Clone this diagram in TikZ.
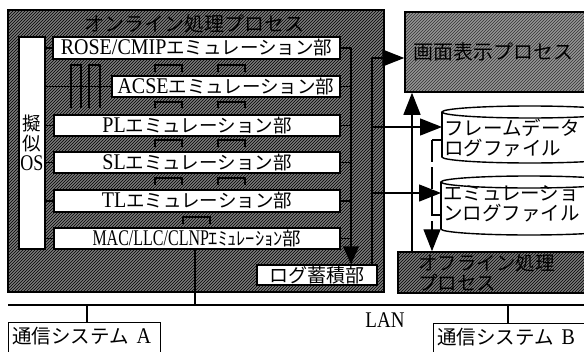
\documentclass[tikz,border=0pt]{standalone}
\usepackage{fontspec}
\setmainfont{Liberation Serif}
\newfontfamily\jp{Noto Sans CJK JP}
\usetikzlibrary{arrows.meta,patterns}
\newcommand\J[1]{{\jp\mdseries #1}}
\newcommand\Lt[2][1]{\scalebox{#1}[1.12]{\fontsize{20}{20}\selectfont #2}}
\newcommand\brkt[4]{\draw[brk] (#1,#4) -- (#1,#3) -- (#2,#3) -- (#2,#4);}
\tikzset{
  hatchbox/.style={draw=black, line width=1.8pt, preaction={fill=black!52}, pattern=north east lines, pattern color=black, inner sep=0pt},
  lighthatch/.style={draw=black, line width=1.5pt, preaction={fill=black!42}, pattern=north east lines, pattern color=black!80, inner sep=0pt},
  mod/.style={draw, line width=1.4pt, fill=white, inner sep=0pt, font=\fontsize{18.5}{20}\selectfont},
  conn/.style={line width=1.4pt},
  arr/.style={conn, -{Triangle[length=22pt,width=17pt]}},
  brk/.style={line width=1.6pt},
  jtext/.style={font=\jp\fontsize{19.5}{20}\selectfont, inner sep=0pt},
  cylline/.style={line width=1.4pt},
}
\begin{document}
\begin{tikzpicture}[x=1pt,y=-1pt]
\useasboundingbox (0,0) rectangle (584,351);
\begin{scope}
\clip (0,0) rectangle (584,351);
\fill[white] (0,0) rectangle (584,351);

% online process
\node[hatchbox, minimum width=376pt, minimum height=282pt] (online) at (196,151) {};
\node[jtext, font=\jp\fontsize{20}{20}\selectfont] (title) at (194,24) {オンライン処理プロセス};

\node[mod, minimum width=26pt, minimum height=212pt, align=center] (os) at (32,143) {\J{擬}\\\J{似}\\\Lt[0.9]{OS}};
\node[mod, minimum width=287pt, minimum height=22pt] (rose) at (196.5,48) {\Lt{ROSE/CMIP}\J{エミュレーション部}};
\node[mod, minimum width=228pt, minimum height=21pt] (acse) at (226,86.5) {\Lt{ACSE}\J{エミュレーション部}};
\node[mod, minimum width=286pt, minimum height=21pt] (pl) at (197,125.5) {\Lt{PL}\J{エミュレーション部}};
\node[mod, minimum width=286pt, minimum height=21pt] (sl) at (197,162.5) {\Lt{SL}\J{エミュレーション部}};
\node[mod, minimum width=286pt, minimum height=22pt] (tl) at (197,201) {\Lt{TL}\J{エミュレーション部}};
\node[mod, minimum width=286pt, minimum height=21pt] (mac) at (197,238.5) {\Lt[0.8]{MAC/LLC/CLNP}\J{ｴﾐｭﾚｰｼｮﾝ部}};
\node[mod, minimum width=120pt, minimum height=20pt, font=\jp\fontsize{19}{20}\selectfont] (log) at (317,275) {ログ蓄積部};

% left connectors
\foreach \m in {rose,acse,pl,sl,tl,mac} \draw[conn] (os.east |- \m.west) -- (\m.west);
% pillars
\draw[brk, line width=2pt] (71,108) -- (71,65) -- (81,65) -- (81,108);
\draw[brk, line width=2pt] (89,108) -- (89,65) -- (100,65) -- (100,108);
% brackets between layers
\brkt{155}{182}{65}{72}
\brkt{218}{245}{65}{72}
\brkt{155}{182}{102}{108}
\brkt{218}{245}{102}{108}
\brkt{155}{182}{140}{147}
\brkt{218}{245}{140}{147}
\brkt{155}{182}{178}{185}
\brkt{218}{245}{178}{185}
\brkt{183}{210}{217}{224}

% right bus to log
\coordinate (bus) at (351,48);
\draw[conn] (rose.east) -- (bus);
\foreach \m in {acse,pl,sl,tl,mac} \draw[conn] (\m.east) -- (\m.east -| bus);
\draw[conn, -{Triangle[length=18pt,width=16pt]}] (bus) -- (bus |- log.north);

% right side boxes
\node[lighthatch, minimum width=195pt, minimum height=80pt, text width=179pt, inner xsep=8pt, align=left, font=\jp\fontsize{20}{20}\selectfont] (disp) at (502.5,52) {画面表示プロセス};
\node[hatchbox, line width=1.5pt, minimum width=202pt, minimum height=41pt, text width=162pt, inner xsep=20pt, align=left, font=\jp\fontsize{19.5}{20}\selectfont] (off) at (499,272.5) {オフライン処理\\プロセス};

% cylinder 1
\draw[cylline, fill=white] (530,157) ellipse [x radius=88, y radius=6];
\fill[white] (442,112) rectangle (620,157);
\draw[cylline] (442,112) -- (442,157);
\draw[cylline, fill=white] (530,112) ellipse [x radius=88, y radius=6];
\node[jtext, anchor=west, align=left] (fdtext) at (444,138) {フレームデータ\\ログファイル};
% cylinder 2
\draw[cylline, fill=white] (529,229) ellipse [x radius=88, y radius=6];
\fill[white] (441,182) rectangle (620,229);
\draw[cylline] (441,182) -- (441,229);
\draw[cylline, fill=white] (529,182) ellipse [x radius=88, y radius=6];
\node[jtext, anchor=west, align=left] (eltext) at (443,204) {エミュレーショ\\ンログファイル};

\coordinate (fdw) at (442,127);
\coordinate (elw) at (441,193);

% log outputs
\coordinate (j0) at (372,58);
\coordinate (j1) at (372,127);
\coordinate (j2) at (372,193);
\draw[conn] (log.north -| j0) -- (j0);
\draw[arr] (j0) -- (j0 -| disp.west);
\draw[arr] (j1) -- (fdw);
\draw[arr] (j2) -- (elw);

% offline to display
\coordinate (up) at (412,0);
\draw[arr] (off.north -| up) -- (disp.south -| up);

% log files to offline (dashed)
\coordinate (dv) at (432,140);
\coordinate (dv2) at (432,215);
\draw[conn] (fdw |- dv) -- (dv);
\draw[conn] (elw |- dv2) -- (dv2);
\draw[arr, dash pattern=on 22pt off 5pt] (dv) -- (dv |- off.north);

% LAN
\coordinate (lanL) at (8,305);
\coordinate (lanR) at (590,305);
\draw[line width=1.8pt] (lanL) -- (lanR);
\node[inner sep=0pt] (lan) at (385,320) {\Lt[0.95]{LAN}};
\coordinate (macdn) at (195,305);
\draw[conn] (mac.south -| macdn) -- (macdn);

% communication systems
\node[draw, line width=1.4pt, fill=white, minimum width=152pt, minimum height=40pt, anchor=north west, inner sep=0pt] (ca) at (8,322) {};
\node[jtext, anchor=west] (cat) at (12,336) {通信システム\hspace{8pt}{\rmfamily\Lt{A}}};
\coordinate (cadn) at (87,305);
\draw[conn] (cadn) -- (ca.north -| cadn);
\node[draw, line width=1.4pt, fill=white, minimum width=170pt, minimum height=40pt, anchor=north west, inner sep=0pt] (cb) at (433,323) {};
\node[jtext, anchor=west] (cbt) at (437,337) {通信システム\hspace{8pt}{\rmfamily\Lt{B}}};
\coordinate (cbdn) at (508,305);
\draw[conn] (cbdn) -- (cb.north -| cbdn);
\end{scope}
\end{tikzpicture}
\end{document}
